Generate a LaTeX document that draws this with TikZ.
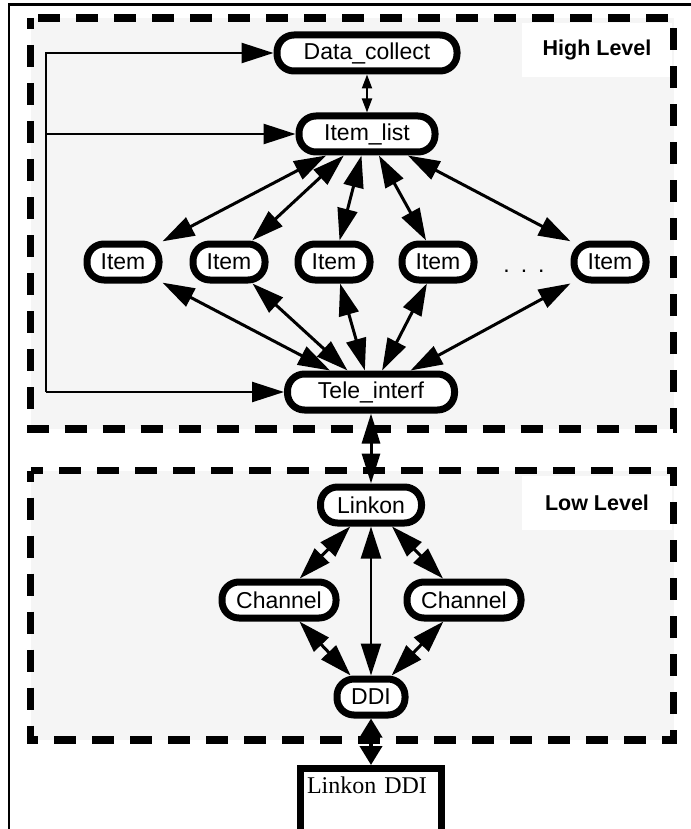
\documentclass[tikz,border=0pt]{standalone}
\usepackage{fontspec}
\setmainfont{Liberation Serif}
\setsansfont{Liberation Sans}
\usetikzlibrary{arrows.meta}
\definecolor{panel}{HTML}{F5F5F5}
\tikzset{
  unit/.style={draw, line width=7pt, fill=white, rounded corners=17pt, minimum height=36pt,
    inner xsep=3pt, inner ysep=0pt, font=\sffamily\fontsize{23}{26}\selectfont},
  level/.style={fill=white, minimum width=150pt, minimum height=54pt,
    font=\sffamily\bfseries\fontsize{21.5}{24}\selectfont},
  layer/.style={line width=7.5pt, dash pattern=on 22pt off 16pt, dash phase=11pt},
  link/.style={line width=3pt, <->},
}

\begin{document}
\begin{tikzpicture}[x=1pt,y=-1pt,>={Triangle[length=32pt,width=20pt]}]
\useasboundingbox (0,0) rectangle (690,829);
\draw[line width=2.5pt] (9,860) |- (720,4.5);
% the two levels
\fill[panel] (30.5,18) rectangle (673.5,429);
\fill[panel] (30.5,470.5) rectangle (673.5,740);
\node[level] (high) at (597,50) {High Level};
\node[level] (low) at (597,502.5) {Low Level};
\draw[layer] (30.5,18) rectangle (673.5,429);
\draw[layer] (30.5,470.5) rectangle (673.5,740);

% high level
\node[unit, minimum width=180pt] (data) at (367,53) {Data\_collect};
\node[unit, minimum width=136pt] (list) at (367,134) {Item\_list};
\node[unit, minimum width=72pt] (item1) at (123,262) {Item};
\node[unit, minimum width=72pt] (item2) at (229,262) {Item};
\node[unit, minimum width=72pt] (item3) at (334,262) {Item};
\node[unit, minimum width=72pt] (item4) at (438,262) {Item};
\node[unit, minimum width=72pt] (item5) at (610,262) {Item};
\node[font=\sffamily\fontsize{23}{26}\selectfont, inner sep=0pt] (dots) at (524,271) {.\hspace{11pt}.\hspace{11pt}.};
\node[unit, minimum width=167pt] (tele) at (371,392) {Tele\_interf};

\draw[line width=2pt, {Triangle[length=14pt,width=10pt]}-{Triangle[length=14pt,width=10pt]}] (data) -- (list);
\foreach \i in {1,...,5}{
  \draw[link] (list) -- (item\i);
  \draw[link] (item\i) -- (tele);
}
\coordinate (fb) at (46,53);
\draw[line width=2.5pt, ->] (tele.west -| fb) |- (data.west);
\draw[line width=2.5pt, ->] (list.west -| fb) -- (list.west);
\draw[line width=2.5pt, ->] (tele.west -| fb) -- (tele.west);

% low level
\node[unit, minimum width=101pt] (linkon) at (371,505) {Linkon};
\node[unit, minimum width=114pt] (chanl) at (279,600) {Channel};
\node[unit, minimum width=114pt] (chanr) at (464,600) {Channel};
\node[unit, minimum width=68pt] (ddi) at (371,697) {DDI};
\node[draw, line width=7pt, anchor=north, align=left, text width=128pt, inner xsep=6.5pt,
  inner ysep=8.5pt, text height=16pt, text depth=70pt, font=\fontsize{24}{28}\selectfont]
  (hw) at (371,765) {Linkon DDI};

\draw[line width=3pt, {Triangle[length=30pt,width=18pt]}-{Triangle[length=30pt,width=18pt]}] (tele) -- (linkon);
\draw[link] (linkon) -- (chanl);
\draw[link] (linkon) -- (chanr);
\draw[link] (chanl) -- (ddi);
\draw[link] (chanr) -- (ddi);
\draw[line width=2.5pt, <->] (linkon) -- (ddi);
\draw[line width=4pt, {Triangle[length=19pt,width=22pt]}-{Triangle[length=19pt,width=22pt]}] (ddi.south) -- (hw.north);
\end{tikzpicture}
\end{document}
